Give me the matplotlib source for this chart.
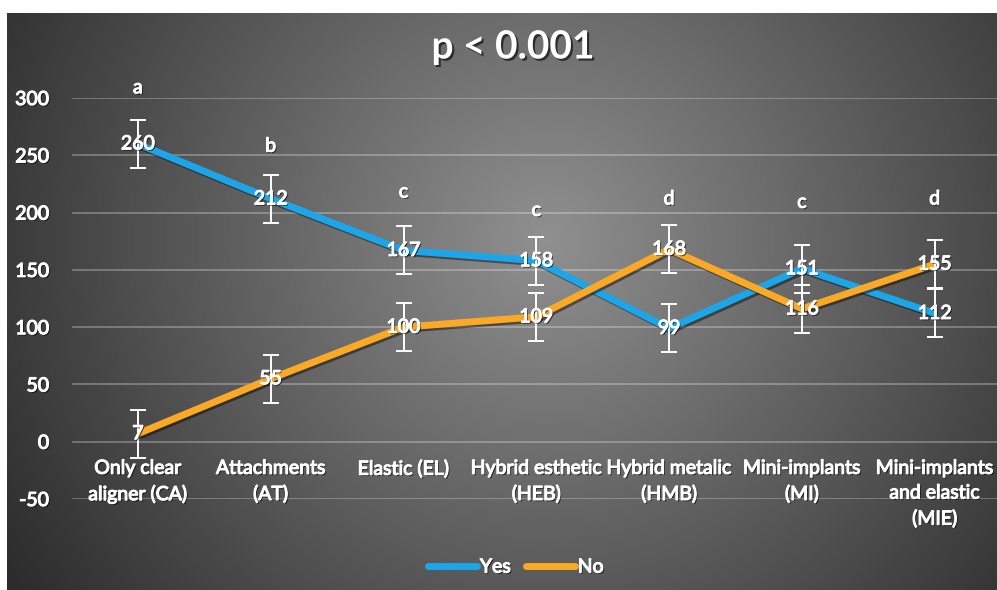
import numpy as np
import matplotlib
matplotlib.use("Agg")
import matplotlib.pyplot as plt
import matplotlib.patheffects as pe
from matplotlib.lines import Line2D

# ---------------- data ----------------
categories = ["Only clear\naligner (CA)", "Attachments\n(AT)", "Elastic (EL)",
              "Hybrid esthetic\n(HEB)", "Hybrid metalic\n(HMB)", "Mini-implants\n(MI)",
              "Mini-implants\nand elastic\n(MIE)"]
yes_values = [260, 212, 167, 158, 99, 151, 112]
no_values = [7, 55, 100, 109, 168, 116, 155]
error = 21
letters = ["a", "b", "c", "c", "d", "c", "d"]
letter_heights = [309, 258, 218, 202, 212, 209, 212]
yticks = [-50, 0, 50, 100, 150, 200, 250, 300]
title = "p < 0.001"

FONT = ["Lato", "DejaVu Sans"]
plt.rcParams["font.family"] = FONT
plt.rcParams["axes.unicode_minus"] = False

W, H = 997, 590
fig = plt.figure(figsize=(W / 100, H / 100), dpi=100)
fig.patch.set_facecolor("white")

# background radial gradient (chart area)
bx0, by0 = 7, 13
bw, bh = W - bx0, H - by0
bg = fig.add_axes([bx0 / W, 0, bw / W, bh / H])
yy, xx = np.mgrid[0:bh, 0:bw]
cx, cy = 545, 240
d = np.sqrt((xx + bx0 - cx) ** 2 + (yy + by0 - cy) ** 2)
val = np.clip(144 - 0.158 * d, 40, 255) / 255.0
img = np.dstack([val, val, val])
bg.imshow(img, aspect="auto", interpolation="bilinear")
bg.set_axis_off()

# main axes
left_px, right_px = 71.5, 71.5 + 7 * 132.8
top_px, bot_px = 98, 499
ax = fig.add_axes([left_px / W, (H - bot_px) / H, (right_px - left_px) / W, (bot_px - top_px) / H])
ax.set_facecolor("none")
ax.set_xlim(-0.5, 6.5)
ax.set_ylim(-50, 300)
ax.set_yticks(yticks)
ax.grid(axis="y", color="white", alpha=0.35, linewidth=1.1)
ax.set_axisbelow(True)
for s in ax.spines.values():
    s.set_visible(False)
ax.spines["bottom"].set_position(("data", 0))

shadow_txt = [pe.withSimplePatchShadow(offset=(1, -1), shadow_rgbFace="black", alpha=0.6),
              pe.Stroke(linewidth=0.8, foreground="white"), pe.Normal()]

x = np.arange(len(categories))
ax.set_xticks(x)
ax.set_xticklabels(categories)
ax.tick_params(axis="x", length=0, pad=13, labelsize=14, labelcolor="white")
ax.tick_params(axis="y", length=0, pad=16, labelsize=14, labelcolor="white")
for t in ax.get_xticklabels():
    t.set_linespacing(1.55)
for t in ax.get_xticklabels() + ax.get_yticklabels():
    t.set_path_effects(shadow_txt)

line_shadow = [pe.SimpleLineShadow(offset=(1.5, -1.5), shadow_color="black", alpha=0.45), pe.Normal()]
blue = "#1CA6E9"
orange = "#F9A925"
ax.plot(x, yes_values, color=blue, lw=5, solid_capstyle="butt", zorder=3, path_effects=line_shadow)
ax.plot(x, no_values, color=orange, lw=5, solid_capstyle="butt", zorder=3, path_effects=line_shadow)

for vals in (yes_values, no_values):
    ax.errorbar(x, vals, yerr=error, fmt="none", ecolor="white", elinewidth=1.4,
                capsize=6, capthick=1.4, zorder=4)

for vals in (yes_values, no_values):
    for xi, v in zip(x, vals):
        ax.text(xi, v, str(v), color="white", fontsize=14, ha="center", va="center",
                zorder=5, path_effects=shadow_txt)

for xi, lt, h in zip(x, letters, letter_heights):
    ax.text(xi, h, lt, color="white", fontsize=14, ha="center", va="center",
            zorder=5, path_effects=shadow_txt)

fig.text(513 / W, 1 - 47 / H, title, color="white", fontsize=28, fontweight="bold",
         ha="center", va="center",
         path_effects=[pe.withSimplePatchShadow(offset=(1.5, -1.5), shadow_rgbFace="black", alpha=0.6)])

handles = [Line2D([], [], color=blue, lw=5, solid_capstyle="round"),
           Line2D([], [], color=orange, lw=5, solid_capstyle="round")]
leg = fig.legend(handles, ["Yes", "No"], loc="center", bbox_to_anchor=(516 / W, 1 - 567 / H),
                 ncol=2, frameon=False, fontsize=14, handlelength=2.5, handletextpad=0.15,
                 columnspacing=0.8, labelcolor="white")
for t in leg.get_texts():
    t.set_path_effects(shadow_txt)

fig.savefig("out.png", dpi=100, facecolor="white")
